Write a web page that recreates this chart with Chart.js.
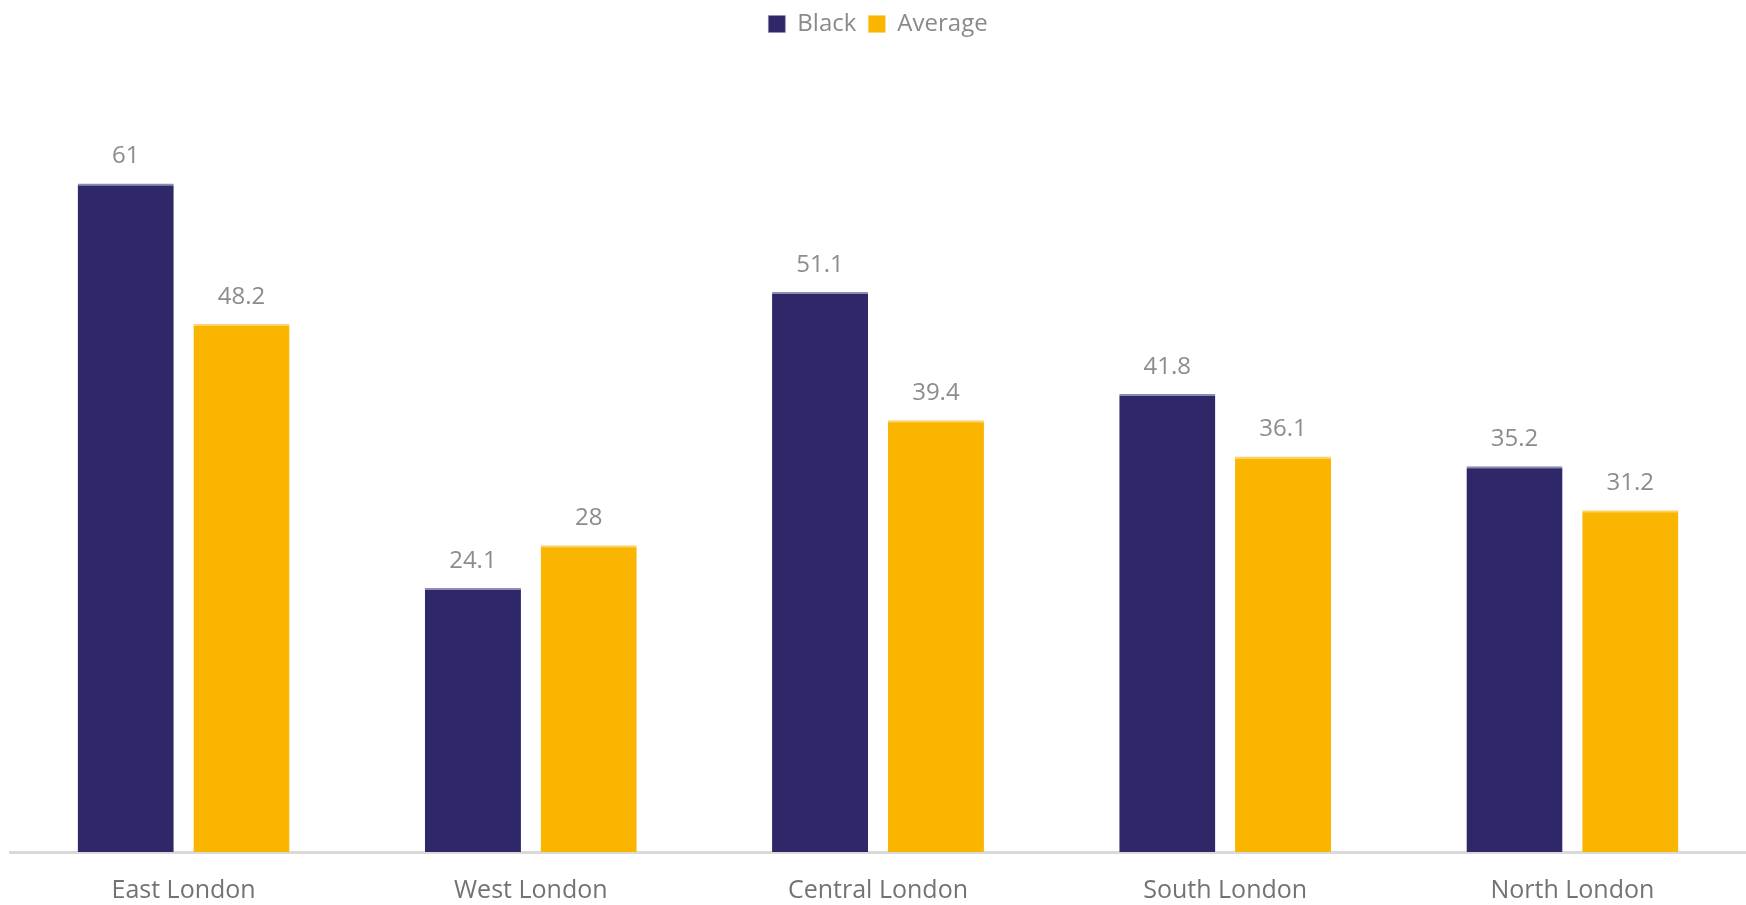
<!DOCTYPE html>
<html>
<head>
<meta charset="utf-8">
<script src="https://cdn.jsdelivr.net/npm/chart.js@4"></script>
<style>
  html, body { margin: 0; padding: 0; background: #fff; }
  #wrap { width: 1746px; height: 905px; }
</style>
</head>
<body>
<div id="wrap"><canvas id="chart"></canvas></div>
<script>
const regions = ['East London', 'West London', 'Central London', 'South London', 'North London'];
const blackValues = [61, 24.1, 51.1, 41.8, 35.2];
const averageValues = [48.2, 28, 39.4, 36.1, 31.2];

const navy = '#2e2868';
const amber = '#f9b500';

// draw the value above each bar
const valueLabels = {
  id: 'valueLabels',
  afterDatasetsDraw(chart) {
    const ctx = chart.ctx;
    ctx.save();
    ctx.font = '24px "Open Sans"';
    ctx.fillStyle = '#8c8c8c';
    ctx.textAlign = 'center';
    ctx.textBaseline = 'middle';
    chart.data.datasets.forEach((ds, i) => {
      chart.getDatasetMeta(i).data.forEach((bar, j) => {
        ctx.fillText(String(ds.data[j]), bar.x, bar.y - 27);
      });
    });
    ctx.restore();
  }
};

// extra room under the legend
const legendGap = {
  id: 'legendGap',
  beforeInit(chart) {
    const fit = chart.legend.fit;
    chart.legend.fit = function () {
      fit.bind(chart.legend)();
      this.height += 39;
    };
  }
};

new Chart(document.getElementById('chart'), {
  type: 'bar',
  data: {
    labels: regions,
    datasets: [
      {
        label: 'Black', data: blackValues, backgroundColor: navy,
        borderColor: '#8d8ab5', borderWidth: { top: 2, left: 0, right: 0, bottom: 0 }
      },
      {
        label: 'Average', data: averageValues, backgroundColor: amber,
        borderColor: '#fbd36a', borderWidth: { top: 2, left: 0, right: 0, bottom: 0 }
      }
    ]
  },
  options: {
    responsive: true,
    maintainAspectRatio: false,
    animation: false,
    categoryPercentage: 0.667,
    barPercentage: 0.83,
    layout: { padding: { left: 10, right: 0, top: 0, bottom: -25 } },
    plugins: {
      legend: {
        position: 'top',
        labels: {
          boxWidth: 17,
          boxHeight: 17,
          color: '#8a8a8a',
          font: { family: '"Open Sans"', size: 24 },
          padding: 12
        }
      },
      tooltip: { enabled: false }
    },
    scales: {
      x: {
        grid: { display: false, drawTicks: false },
        border: { color: '#d9d9d9', width: 3 },
        ticks: {
          color: '#737373',
          font: { family: '"Open Sans"', size: 25 },
          padding: 24
        }
      },
      y: {
        min: 0,
        max: 70,
        display: false
      }
    }
  },
  plugins: [valueLabels, legendGap]
});
</script>
</body>
</html>
